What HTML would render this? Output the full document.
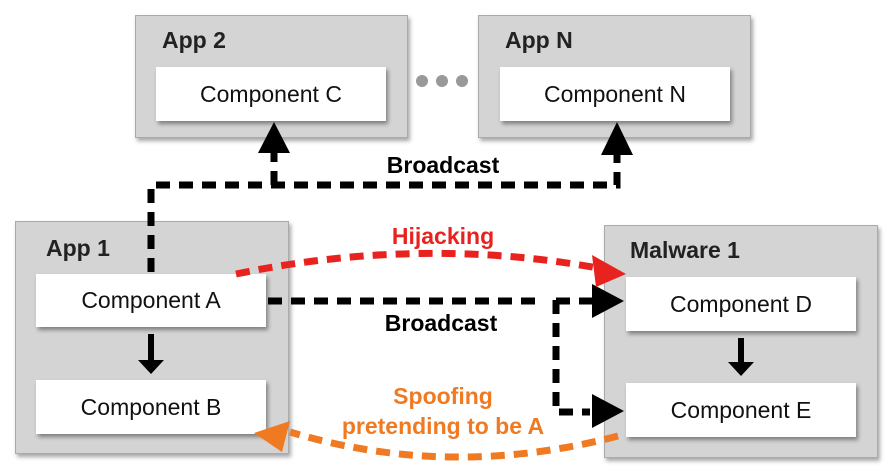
<!DOCTYPE html>
<html><head><meta charset="utf-8"><style>
body{margin:0;width:892px;height:472px;background:#fff;overflow:hidden;font-family:"Liberation Sans",sans-serif}
.box{position:absolute;background:#d4d4d4;border:1px solid #aaa;box-shadow:2px 3px 4px rgba(0,0,0,.35)}
.c{position:absolute;background:#fff;box-shadow:2px 3px 4px rgba(0,0,0,.4);font-size:23px;display:flex;align-items:center;justify-content:center;color:#111}
.t{position:absolute;font-weight:bold;font-size:23px;color:#222}
.l{position:absolute;font-weight:bold;font-size:23px;transform:translateX(-50%);white-space:nowrap}
</style></head><body>
<div class="box" style="left:135px;top:15px;width:271px;height:121px"></div>
<div class="t" style="left:162px;top:27px">App 2</div>
<div class="c" style="left:156px;top:67px;width:230px;height:54px">Component C</div>
<div class="box" style="left:478px;top:15px;width:271px;height:121px"></div>
<div class="t" style="left:505px;top:27px">App N</div>
<div class="c" style="left:500px;top:67px;width:230px;height:54px">Component N</div>
<div class="box" style="left:15px;top:221px;width:272px;height:231px"></div>
<div class="t" style="left:46px;top:235px">App 1</div>
<div class="c" style="left:36px;top:274px;width:230px;height:53px">Component A</div>
<div class="c" style="left:36px;top:380px;width:230px;height:54px">Component B</div>
<div class="box" style="left:604px;top:225px;width:272px;height:231px"></div>
<div class="t" style="left:630px;top:237px">Malware 1</div>
<div class="c" style="left:626px;top:277px;width:230px;height:54px">Component D</div>
<div class="c" style="left:626px;top:383px;width:230px;height:54px">Component E</div>
<svg style="position:absolute;left:0;top:0" width="892" height="472">
<circle cx="422" cy="81" r="6" fill="#999"/><circle cx="442" cy="81" r="6" fill="#999"/><circle cx="462" cy="81" r="6" fill="#999"/>
<g stroke="#000" stroke-width="7" fill="none" stroke-dasharray="14,9">
<path d="M151 272 V185 H617 V155"/>
<path d="M274 185 V152"/>
<path d="M268 301 H540"/>
<path d="M556 300 V412 H590"/>
<path d="M556 301 H592"/>
</g>
<polygon points="258,153 290,153 274,122" fill="#000"/>
<polygon points="601,155 633,155 617,122" fill="#000"/>
<polygon points="592,284 592,318 624,301" fill="#000"/>
<polygon points="592,394 592,428 624,411" fill="#000"/>
<path d="M151 334 V362" stroke="#000" stroke-width="6"/>
<polygon points="138,360 164,360 151,374" fill="#000"/>
<path d="M741 338 V364" stroke="#000" stroke-width="6"/>
<polygon points="728,362 754,362 741,376" fill="#000"/>
<path d="M236 274 Q420 236 598 268" stroke="#e8231f" stroke-width="7" fill="none" stroke-dasharray="14,9"/>
<polygon points="592,255 626,274 596,287" fill="#e8231f"/>
<path d="M618 436 Q450 480 290 432" stroke="#f07a22" stroke-width="7" fill="none" stroke-dasharray="14,9"/>
<polygon points="254,433 290,421 282,452" fill="#f07a22"/>
</svg>
<div class="l" style="left:443px;top:152px;color:#000">Broadcast</div>
<div class="l" style="left:441px;top:310px;color:#000">Broadcast</div>
<div class="l" style="left:443px;top:223px;color:#e8231f">Hijacking</div>
<div class="l" style="left:443px;top:383px;color:#f07a22">Spoofing</div>
<div class="l" style="left:443px;top:413px;color:#f07a22">pretending to be A</div>
</body></html>
